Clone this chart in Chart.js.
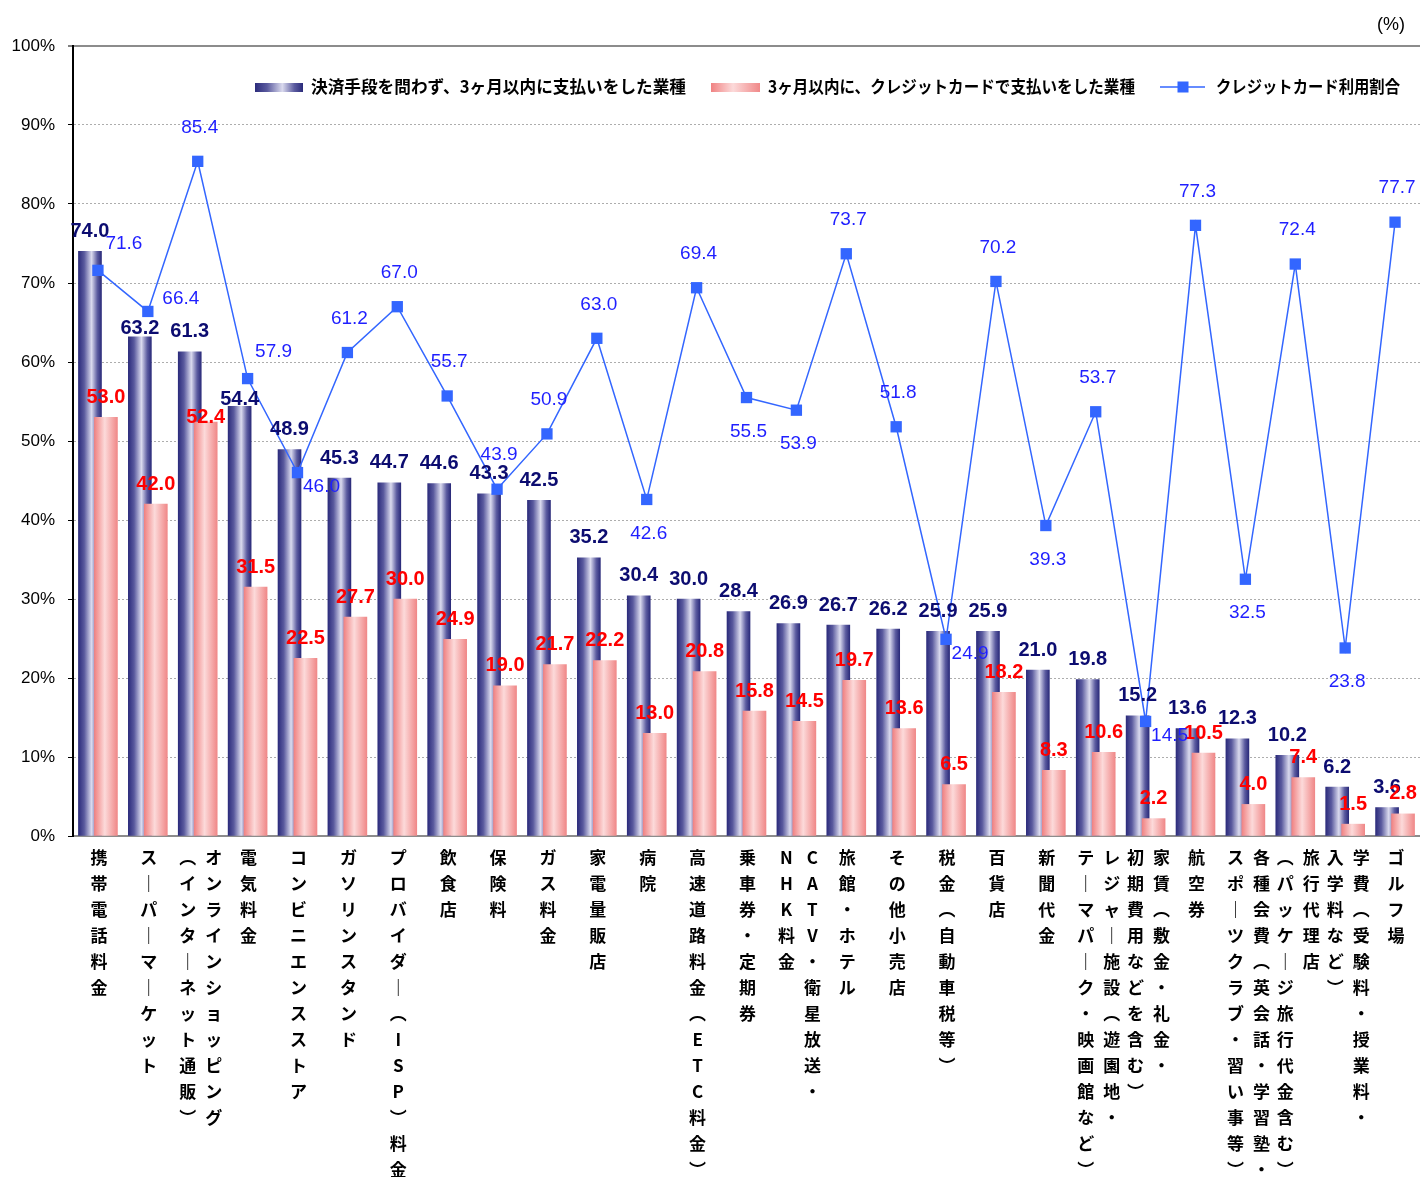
<!DOCTYPE html>
<html lang="ja">
<head>
<meta charset="utf-8">
<script src="https://cdn.jsdelivr.net/npm/chart.js@4"></script>
<style>
  html, body { margin: 0; padding: 0; background: #fff; }
  #wrap { position: relative; width: 1420px; height: 1177px; }
</style>
</head>
<body>
<div id="wrap"><canvas id="c" width="1420" height="1177"></canvas></div>
<script>
// Category names; a second entry is the wrapped second column of a long name.
const categories = [
  ['携帯電話料金'],
  ['スーパーマーケット'],
  ['オンラインショッピング', '（インターネット通販）'],
  ['電気料金'],
  ['コンビニエンスストア'],
  ['ガソリンスタンド'],
  ['プロバイダー（ISP）料金'],
  ['飲食店'],
  ['保険料'],
  ['ガス料金'],
  ['家電量販店'],
  ['病院'],
  ['高速道路料金（ETC料金）'],
  ['乗車券・定期券'],
  ['CATV・衛星放送・', 'NHK料金'],
  ['旅館・ホテル'],
  ['その他小売店'],
  ['税金（自動車税等）'],
  ['百貨店'],
  ['新聞代金'],
  ['レジャー施設（遊園地・', 'テーマパーク・映画館など）'],
  ['家賃（敷金・礼金・', '初期費用などを含む）'],
  ['航空券'],
  ['各種会費（英会話・学習塾・', 'スポーツクラブ・習い事等）'],
  ['旅行代理店', '（パッケージ旅行代金含む）'],
  ['学費（受験料・授業料・', '入学料など）'],
  ['ゴルフ場']
];

// 決済手段を問わず、3ヶ月以内に支払いをした業種 (%)
const paidAnyMethod = [74.0, 63.2, 61.3, 54.4, 48.9, 45.3, 44.7, 44.6, 43.3, 42.5, 35.2, 30.4, 30.0, 28.4,
                       26.9, 26.7, 26.2, 25.9, 25.9, 21.0, 19.8, 15.2, 13.6, 12.3, 10.2, 6.2, 3.6];
// 3ヶ月以内に、クレジットカードで支払いをした業種 (%)
const paidByCard = [53.0, 42.0, 52.4, 31.5, 22.5, 27.7, 30.0, 24.9, 19.0, 21.7, 22.2, 13.0, 20.8, 15.8,
                    14.5, 19.7, 13.6, 6.5, 18.2, 8.3, 10.6, 2.2, 10.5, 4.0, 7.4, 1.5, 2.8];
// クレジットカード利用割合 (%)
const cardShare = [71.6, 66.4, 85.4, 57.9, 46.0, 61.2, 67.0, 55.7, 43.9, 50.9, 63.0, 42.6, 69.4, 55.5,
                   53.9, 73.7, 51.8, 24.9, 70.2, 39.3, 53.7, 14.5, 77.3, 32.5, 72.4, 23.8, 77.7];

const legendLabels = [
  '決済手段を問わず、3ヶ月以内に支払いをした業種',
  '3ヶ月以内に、クレジットカードで支払いをした業種',
  'クレジットカード利用割合'
];

// Where each share label sits around its marker.
const shareLabelSide = ['tr', 'r', 't', 'tr', 'br', 't', 't', 't', 't', 't', 't', 'b', 't', 'b',
                        'b', 't', 't', 'br', 't', 'b', 't', 'br', 't', 'b', 't', 'b', 't'];
const sideOffset = { t: [2, -34], b: [2, 34], tr: [26, -27], r: [33, -13], br: [24, 14] };
// Distance of bar value labels above the bar top (defaults to 20px).
const anyLabelLift = { 1: 8, 3: 7 };
const cardLabelLift = { 2: 5 };

const BAR_W = 23;
const BAR_SHIFT = 0.16;
const NUM_FONT = '"Liberation Sans", Arial, sans-serif';
const JP_FONT = '"Noto Sans CJK JP", "Noto Sans", sans-serif';

const BLUE_STOPS = [[0, '#2c2c7c'], [0.25, '#5a5a9e'], [0.57, '#dadaee'], [0.82, '#5c5ca0'], [1, '#2a2a7a']];
const PINK_STOPS = [[0, '#f08282'], [0.45, '#fcdada'], [1, '#f08888']];

function makeGradient(ctx, x0, x1, stops) {
  const g = ctx.createLinearGradient(x0, 0, x1, 0);
  stops.forEach(([p, c]) => g.addColorStop(p, c));
  return g;
}

function barFill(stops) {
  return (c) => {
    const chart = c.chart;
    if (c.type !== 'data' || !chart.chartArea || !chart.scales.x) return stops[0][1];
    const x = chart.scales.x.getPixelForValue(c.raw.x);
    return makeGradient(chart.ctx, x - BAR_W / 2, x + BAR_W / 2, stops);
  };
}

// Vertical-writing forms for characters that turn in vertical text.
const verticalForm = { 'ー': '｜', '（': '︵', '）': '︶' };

const valueLabels = {
  id: 'valueLabels',
  afterDatasetsDraw(chart) {
    const ctx = chart.ctx;
    ctx.save();
    ctx.textAlign = 'center';
    ctx.textBaseline = 'middle';
    ctx.font = 'bold 20px ' + NUM_FONT;
    [[0, paidAnyMethod, '#0c0c70', anyLabelLift], [1, paidByCard, '#ff0000', cardLabelLift]]
      .forEach(([di, vals, color, lift]) => {
        ctx.fillStyle = color;
        chart.getDatasetMeta(di).data.forEach((el, i) => {
          const up = lift[i] !== undefined ? lift[i] : 20;
          ctx.fillText(vals[i].toFixed(1), el.x, el.y - up);
        });
      });
    ctx.font = '19px ' + NUM_FONT;
    ctx.fillStyle = '#1f1fff';
    chart.getDatasetMeta(2).data.forEach((el, i) => {
      const [dx, dy] = sideOffset[shareLabelSide[i]];
      ctx.fillText(cardShare[i].toFixed(1), el.x + dx, el.y + dy);
    });
    ctx.restore();
  }
};

const categoryLabels = {
  id: 'categoryLabels',
  afterDraw(chart) {
    const ctx = chart.ctx;
    const xs = chart.scales.x;
    ctx.save();
    ctx.textAlign = 'center';
    ctx.textBaseline = 'middle';
    ctx.font = 'bold 17px ' + JP_FONT;
    ctx.fillStyle = '#000';
    categories.forEach((cols, i) => {
      const cx = xs.getPixelForValue(i);
      const colX = cols.length === 1 ? [cx + 1] : [cx + 16, cx - 10];
      cols.forEach((text, k) => {
        Array.from(text).forEach((ch, j) => {
          ctx.fillText(verticalForm[ch] || ch, colX[k], 858 + 26 * j);
        });
      });
    });
    ctx.restore();
  }
};

const legendAndUnit = {
  id: 'legendAndUnit',
  afterDraw(chart) {
    const ctx = chart.ctx;
    const y = 87;
    ctx.save();
    // series swatches
    ctx.fillStyle = makeGradient(ctx, 255, 303, BLUE_STOPS);
    ctx.fillRect(255, 83, 48, 9);
    ctx.fillStyle = makeGradient(ctx, 711, 760, PINK_STOPS);
    ctx.fillRect(711, 83, 49, 9);
    ctx.strokeStyle = '#3366ff';
    ctx.lineWidth = 1.5;
    ctx.beginPath();
    ctx.moveTo(1160, y);
    ctx.lineTo(1205, y);
    ctx.stroke();
    ctx.fillStyle = '#3366ff';
    ctx.fillRect(1183 - 5.5, y - 5.5, 11, 11);

    ctx.fillStyle = '#000';
    ctx.textAlign = 'left';
    ctx.textBaseline = 'middle';
    ctx.font = 'bold 17px ' + JP_FONT;
    ctx.fillText(legendLabels[0], 311, y, 375);
    ctx.fillText(legendLabels[1], 768, y, 367);
    ctx.fillText(legendLabels[2], 1216, y, 184);

    ctx.textAlign = 'center';
    ctx.font = '18px ' + NUM_FONT;
    ctx.fillText('(%)', 1391, 25);
    ctx.restore();
  }
};

new Chart(document.getElementById('c'), {
  type: 'bar',
  data: {
    labels: categories.map(c => c.join('')),
    datasets: [
      {
        label: legendLabels[0],
        data: paidAnyMethod.map((v, i) => ({ x: i - BAR_SHIFT, y: v })),
        backgroundColor: barFill(BLUE_STOPS),
        barThickness: BAR_W,
        grouped: false,
        order: 2
      },
      {
        label: legendLabels[1],
        data: paidByCard.map((v, i) => ({ x: i + BAR_SHIFT, y: v })),
        backgroundColor: barFill(PINK_STOPS),
        barThickness: BAR_W,
        grouped: false,
        order: 1
      },
      {
        type: 'line',
        label: legendLabels[2],
        data: cardShare.map((v, i) => ({ x: i, y: v })),
        borderColor: '#3366ff',
        borderWidth: 1.5,
        backgroundColor: '#3366ff',
        pointStyle: 'rect',
        pointRadius: 8,
        pointBorderWidth: 0,
        pointBackgroundColor: '#3366ff',
        tension: 0,
        order: 0
      }
    ]
  },
  options: {
    responsive: false,
    animation: false,
    devicePixelRatio: 1,
    layout: { autoPadding: false, padding: { top: 46, left: 0, right: 0, bottom: 0 } },
    plugins: { legend: { display: false }, tooltip: { enabled: false } },
    scales: {
      x: {
        type: 'linear',
        min: -0.5,
        max: 26.5,
        offset: false,
        ticks: { display: false },
        grid: { display: false, drawTicks: false },
        border: { display: true, color: '#8c8c8c', width: 2 },
        afterFit: s => { s.height = 341; }
      },
      y: {
        min: 0,
        max: 100,
        ticks: {
          stepSize: 10,
          callback: v => v + '%',
          color: '#000',
          padding: 13,
          font: { family: NUM_FONT, size: 17 }
        },
        grid: {
          color: c => c.tick.value === 0 ? 'rgba(0,0,0,0)' : (c.tick.value === 100 ? '#8c8c8c' : '#adadad'),
          lineWidth: c => c.tick.value === 100 ? 2 : 1,
          tickColor: '#000',
          tickLength: 5,
          tickWidth: 1
        },
        border: {
          display: true,
          color: '#000',
          width: 2,
          dash: c => (c.tick && c.tick.value !== 100) ? [2, 2] : []
        },
        afterFit: s => { s.width = 73; }
      }
    }
  },
  plugins: [valueLabels, categoryLabels, legendAndUnit]
});
</script>
</body>
</html>
